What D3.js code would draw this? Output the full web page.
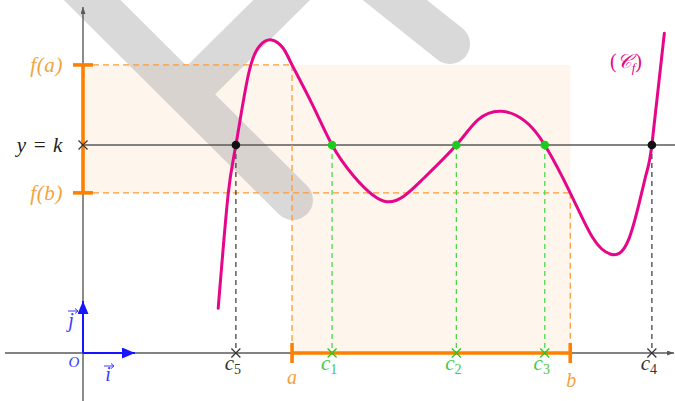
<!DOCTYPE html>
<html>
<head>
<meta charset="utf-8">
<script src="https://cdn.jsdelivr.net/npm/d3@7"></script>
<style>
  html, body { margin: 0; padding: 0; background: #fff; }
  svg { display: block; }
</style>
</head>
<body>
<svg id="chart" width="675" height="401"></svg>
<script>
// Curve (C_f): points of the graph of f, in axis units
const curveX = [2.60, 2.79, 2.94, 3.18, 3.40, 3.63, 3.85, 4.02, 4.40, 4.79, 5.20, 5.84, 6.50,
                7.18, 7.60, 8.05, 8.50, 8.88, 9.37, 9.80, 10.15, 10.50, 10.81, 10.94, 11.18];
const curveY = [0.86, 3.04, 4.00, 5.35, 5.91, 6.02, 5.86, 5.54, 4.80, 4.00, 3.41, 2.91, 3.31,
                4.00, 4.49, 4.65, 4.46, 4.00, 3.08, 2.22, 1.90, 2.20, 3.36, 4.00, 6.15];

// Level k and the interval [a, b]
const k = 4;
const a = 4.02, b = 9.37;
const fa = 5.54, fb = 3.08;

// Solutions of f(x) = k
const roots = [2.94, 4.79, 7.18, 8.88, 10.94];
const rootNames = ["5", "1", "2", "3", "4"];
const rootInside = [false, true, true, true, false];

// Axis labels
const yLabels = [{ v: fa, t: "f(a)" }, { v: k, t: "y = k" }, { v: fb, t: "f(b)" }];

const svg = d3.select("#chart");
const W = 675, H = 401;
const SERIF = "'Liberation Serif', 'DejaVu Serif', serif";

const x = d3.scaleLinear().domain([0, 11]).range([83, 83 + 52 * 11]);
const y = d3.scaleLinear().domain([0, 6]).range([353, 353 - 52 * 6]);

const ORANGE = "#ff8000", ORANGE_L = "#ff9a33", ORANGE_T = "#f5a23c";
const GREEN = "#1ccc1c", GREEN_L = "#4fd84f", GREEN_T = "#45c945";
const MAGENTA = "#e6068a";
const BLUE = "#1515ff", BLUE_T = "#3a3aff";
const AXIS = "#5a5a5a";
const DARK = "#222";

function mathText(px, py, size, color) {
  return svg.append("text").attr("x", px).attr("y", py)
    .style("font-family", SERIF).style("font-style", "italic")
    .attr("font-size", size).attr("fill", color);
}

// Shaded region: horizontal band [f(b), f(a)] and vertical band [a, b]
const fill = "#fef5ed";
svg.append("rect").attr("x", x(0)).attr("y", y(fa))
  .attr("width", x(b) - x(0)).attr("height", y(fb) - y(fa)).attr("fill", fill);
svg.append("rect").attr("x", x(a)).attr("y", y(fa))
  .attr("width", x(b) - x(a)).attr("height", y(0) - y(fa)).attr("fill", fill);

// Background logo strokes
const logo = svg.append("g").attr("opacity", 0.4)
  .attr("stroke", "#a2a2a2").attr("stroke-width", 40).attr("stroke-linecap", "round");
[[60, -32, 293, 200], [187, 94, 332, -50], [332, -50, 450, 44]].forEach(s => {
  logo.append("line").attr("x1", s[0]).attr("y1", s[1]).attr("x2", s[2]).attr("y2", s[3]);
});

// Arrow heads
const defs = svg.append("defs");
function marker(id, color, w, h) {
  defs.append("marker").attr("id", id).attr("viewBox", `0 -${h / 2} ${w} ${h}`)
    .attr("refX", w).attr("refY", 0).attr("markerWidth", w).attr("markerHeight", h)
    .attr("markerUnits", "userSpaceOnUse").attr("orient", "auto")
    .append("path").attr("d", `M0,-${h / 2}L${w},0L0,${h / 2}Z`).attr("fill", color);
}
marker("axisHead", AXIS, 7, 5);
marker("blueHead", BLUE, 13, 11);

// Axes
svg.append("line").attr("x1", 5).attr("x2", W - 1).attr("y1", y(0)).attr("y2", y(0))
  .attr("stroke", AXIS).attr("stroke-width", 1.4).attr("marker-end", "url(#axisHead)");
svg.append("line").attr("x1", x(0)).attr("x2", x(0)).attr("y1", H).attr("y2", 7)
  .attr("stroke", AXIS).attr("stroke-width", 1.4).attr("marker-end", "url(#axisHead)");

// Line y = k
svg.append("line").attr("x1", x(0)).attr("x2", W).attr("y1", y(k)).attr("y2", y(k))
  .attr("stroke", AXIS).attr("stroke-width", 1.6);

// Dashed guides for f(a), f(b), a, b
const dash = "6,4";
svg.append("line").attr("x1", x(0) + 10).attr("x2", x(a)).attr("y1", y(fa)).attr("y2", y(fa))
  .attr("stroke", ORANGE_L).attr("stroke-width", 1.3).attr("stroke-dasharray", dash);
svg.append("line").attr("x1", x(0) + 10).attr("x2", x(b)).attr("y1", y(fb)).attr("y2", y(fb))
  .attr("stroke", ORANGE_L).attr("stroke-width", 1.3).attr("stroke-dasharray", dash);
svg.append("line").attr("x1", x(a)).attr("x2", x(a)).attr("y1", y(fa)).attr("y2", y(0))
  .attr("stroke", ORANGE_L).attr("stroke-width", 1.3).attr("stroke-dasharray", dash);
svg.append("line").attr("x1", x(b)).attr("x2", x(b)).attr("y1", y(fb)).attr("y2", y(0))
  .attr("stroke", ORANGE_L).attr("stroke-width", 1.3).attr("stroke-dasharray", dash);

// Dashed guides from each solution down to the x-axis
roots.forEach((r, i) => {
  svg.append("line").attr("x1", x(r)).attr("x2", x(r)).attr("y1", y(k)).attr("y2", y(0))
    .attr("stroke", rootInside[i] ? GREEN_L : "#444").attr("stroke-width", 1.3)
    .attr("stroke-dasharray", "5,4");
});

// Interval [f(b), f(a)] on the y-axis and [a, b] on the x-axis
function bracket(x1, y1, x2, y2, vertical) {
  const g = svg.append("g").attr("stroke", ORANGE).attr("stroke-width", 3.6);
  g.append("line").attr("x1", x1).attr("y1", y1).attr("x2", x2).attr("y2", y2);
  if (vertical) {
    [y1, y2].forEach(v => g.append("line").attr("x1", x1 - 10).attr("x2", x1 + 10).attr("y1", v).attr("y2", v));
  } else {
    [x1, x2].forEach(v => g.append("line").attr("x1", v).attr("x2", v).attr("y1", y1 - 10).attr("y2", y1 + 10));
  }
}
bracket(x(0), y(fa), x(0), y(fb), true);
bracket(x(a), y(0), x(b), y(0), false);

// Cross marks
function cross(cx, cy, color) {
  const s = 4.5;
  svg.append("path").attr("d", `M${cx - s},${cy - s}L${cx + s},${cy + s}M${cx - s},${cy + s}L${cx + s},${cy - s}`)
    .attr("stroke", color).attr("stroke-width", 1.2).attr("fill", "none");
}
cross(x(0), y(k), "#333");
roots.forEach((r, i) => cross(x(r), y(0), rootInside[i] ? GREEN : "#333"));

// Unit vectors
svg.append("line").attr("x1", x(0)).attr("y1", y(0)).attr("x2", x(1)).attr("y2", y(0))
  .attr("stroke", BLUE).attr("stroke-width", 2).attr("marker-end", "url(#blueHead)");
svg.append("line").attr("x1", x(0)).attr("y1", y(0)).attr("x2", x(0)).attr("y2", y(1))
  .attr("stroke", BLUE).attr("stroke-width", 2).attr("marker-end", "url(#blueHead)");

// Graph of f
const line = d3.line().x(d => x(d[0])).y(d => y(d[1])).curve(d3.curveNatural);
svg.append("path").datum(d3.zip(curveX, curveY)).attr("d", line)
  .attr("fill", "none").attr("stroke", MAGENTA).attr("stroke-width", 3).attr("stroke-linecap", "round");

// Intersection points with y = k
roots.forEach((r, i) => {
  svg.append("circle").attr("cx", x(r)).attr("cy", y(k)).attr("r", 4.3)
    .attr("fill", rootInside[i] ? GREEN : "#111");
});

// Labels on the y-axis side
yLabels.forEach(l => {
  mathText(63, y(l.v), 21, l.t === "y = k" ? DARK : ORANGE_T)
    .attr("dy", "0.32em").attr("text-anchor", "end").attr("letter-spacing", 0.6).text(l.t);
});

// Labels under the x-axis
roots.forEach((r, i) => {
  const t = mathText(x(r) - 3, y(0) + 17, 21, rootInside[i] ? GREEN_T : "#333")
    .attr("text-anchor", "middle");
  t.append("tspan").text("c");
  t.append("tspan").attr("font-size", 14).style("font-style", "normal").attr("dy", 4).text(rootNames[i]);
});
mathText(x(a), y(0) + 31, 20, ORANGE_T).attr("text-anchor", "middle").text("a");
mathText(x(b) + 1, y(0) + 34, 20, ORANGE_T).attr("text-anchor", "middle").text("b");

// Origin and unit-vector names
mathText(74, 367, 15, BLUE_T).attr("text-anchor", "middle").text("O");
mathText(108, 381, 20, BLUE_T).attr("text-anchor", "middle").text("i");
mathText(71, 327, 20, BLUE_T).attr("text-anchor", "middle").text("j");
// vector arrows over i and j
[[104, 366], [68, 311]].forEach(p => {
  svg.append("path").attr("d", `M${p[0]},${p[1]}H${p[0] + 10}M${p[0] + 7},${p[1] - 2.5}L${p[0] + 10},${p[1]}L${p[0] + 7},${p[1] + 2.5}`)
    .attr("stroke", BLUE_T).attr("stroke-width", 1).attr("fill", "none");
});

// Curve name
const cf = mathText(626, 68, 20, MAGENTA).attr("text-anchor", "middle");
cf.append("tspan").style("font-style", "normal").text("(");
cf.append("tspan").text("\u{1D49E}");
cf.append("tspan").attr("font-size", 13).attr("dy", 4).text("f");
cf.append("tspan").style("font-style", "normal").attr("dy", -4).text(")");
</script>
</body>
</html>
